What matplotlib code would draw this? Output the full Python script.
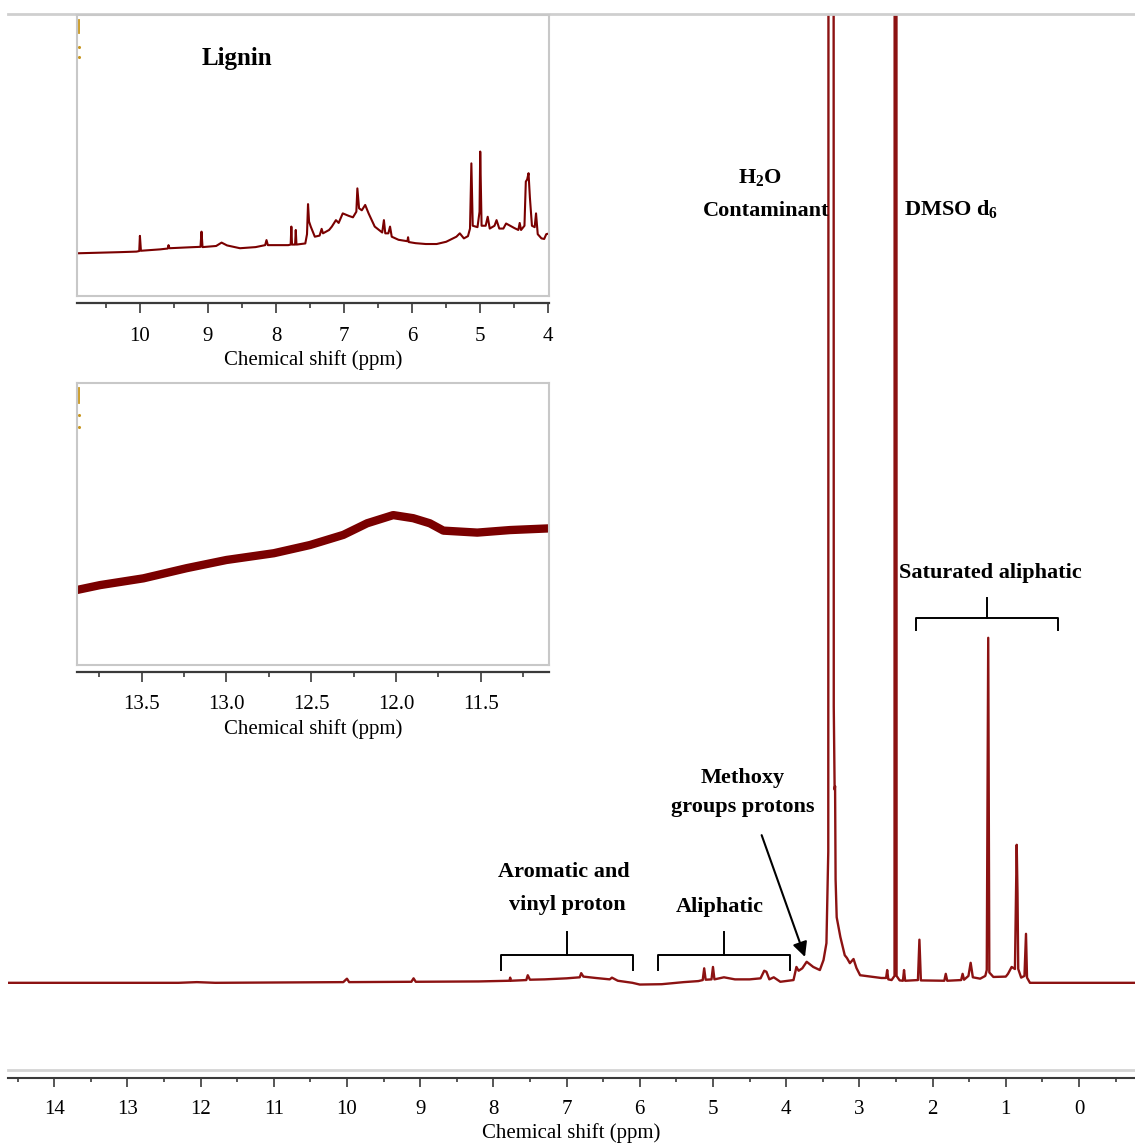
import matplotlib
matplotlib.use("Agg")
import matplotlib.pyplot as plt
from matplotlib.ticker import MultipleLocator, FormatStrFormatter
from matplotlib.lines import Line2D

# ---------------------------------------------------------------------------
# 1H NMR spectrum of lignin in DMSO-d6 (chemical shift in ppm, relative intensity)
# ---------------------------------------------------------------------------
main_ppm = [14.63, 12.30, 12.05, 11.80, 10.05, 10.00, 9.97, 9.12, 9.09, 9.06,
            8.20, 7.78, 7.77, 7.76, 7.55, 7.53, 7.50, 7.30, 7.00, 6.82, 6.80,
            6.77, 6.60, 6.41, 6.38, 6.30, 6.10, 6.00, 5.70, 5.40, 5.20, 5.14,
            5.12, 5.10, 5.02, 5.00, 4.98, 4.85, 4.70, 4.50, 4.35, 4.30, 4.27,
            4.23, 4.17, 4.08, 3.90, 3.86, 3.83, 3.78, 3.72, 3.63, 3.54, 3.49,
            3.45, 3.425, 3.405, 3.365, 3.35, 3.338, 3.332, 3.325, 3.31, 3.26,
            3.20, 3.17, 3.13, 3.08, 3.04, 2.99, 2.70, 2.635, 2.62, 2.605, 2.56,
            2.52, 2.509, 2.502, 2.492, 2.45, 2.405, 2.39, 2.375, 2.20, 2.18, 2.16,
            1.84, 1.82, 1.80, 1.61, 1.59, 1.57, 1.51, 1.48, 1.45, 1.35, 1.28,
            1.26, 1.24, 1.225, 1.17, 1.00, 0.97, 0.92, 0.875, 0.851, 0.84, 0.83,
            0.79, 0.745, 0.724, 0.71, 0.67, -0.77]
main_int = [0.0, 0.0, 0.2, 0.0, 0.2, 1.2, 0.2, 0.3, 1.3, 0.3,
            0.4, 0.6, 1.5, 0.6, 0.8, 2.2, 0.9, 1.0, 1.3, 1.6, 2.8,
            1.8, 1.4, 1.0, 1.5, 0.6, 0.0, -0.5, -0.4, 0.2, 0.5, 0.8,
            4.2, 0.9, 1.0, 4.6, 1.0, 1.6, 1.0, 1.0, 1.3, 3.5, 3.2,
            1.0, 1.6, 0.3, 0.8, 4.6, 3.5, 4.2, 6.1, 4.6, 3.7, 6.6,
            11.5, 38.0, 2000.0, 2000.0, 80.0, 56.0, 57.0, 30.0, 19.0, 13.3,
            8.0, 7.2, 5.7, 6.9, 4.3, 2.2, 1.4, 1.4, 3.7, 1.0, 0.8,
            2.0, 2000.0, 2000.0, 2.0, 0.7, 0.6, 3.7, 0.6, 0.8, 12.5, 0.7,
            0.6, 2.6, 0.6, 0.8, 2.6, 0.9, 2.0, 5.8, 1.6, 1.2, 2.0,
            3.7, 100.0, 3.0, 1.7, 1.8, 2.6, 4.6, 4.0, 40.0, 26.0, 4.0,
            1.5, 2.0, 14.2, 1.5, 0.0, 0.0]

# Expanded region 11-4 ppm (top inset)
ins1_ppm = [10.92, 10.30, 10.05, 10.01, 10.00, 9.985, 9.70, 9.59, 9.58, 9.565,
            9.30, 9.11, 9.095, 9.08, 8.88, 8.80, 8.72, 8.53, 8.30, 8.16, 8.14,
            8.12, 7.82, 7.785, 7.775, 7.765, 7.72, 7.71, 7.70, 7.57, 7.545,
            7.53, 7.515, 7.49, 7.43, 7.36, 7.33, 7.31, 7.22, 7.18, 7.12, 7.08,
            7.02, 6.93, 6.87, 6.82, 6.805, 6.78, 6.74, 6.69, 6.64, 6.55, 6.44,
            6.415, 6.395, 6.35, 6.325, 6.30, 6.20, 6.07, 6.06, 6.05, 5.95, 5.80,
            5.64, 5.50, 5.35, 5.30, 5.24, 5.18, 5.15, 5.13, 5.11, 5.04, 5.01,
            5.00, 4.98, 4.92, 4.89, 4.86, 4.79, 4.76, 4.72, 4.66, 4.62, 4.56,
            4.50, 4.44, 4.42, 4.40, 4.35, 4.33, 4.31, 4.29, 4.27, 4.24, 4.20,
            4.18, 4.155, 4.10, 4.06, 4.03, 3.98]
ins1_int = [15.2, 15.6, 15.8, 16.0, 21.4, 16.1, 16.6, 16.9, 18.1, 17.0,
            17.3, 17.5, 22.9, 17.4, 17.8, 19.0, 18.0, 17.0, 17.4, 18.1, 19.9,
            18.1, 18.1, 18.3, 24.7, 18.3, 18.3, 23.5, 18.3, 18.7, 22.0,
            32.7, 26.5, 24.7, 21.1, 21.5, 23.9, 22.3, 23.5, 24.7, 27.0, 26.0,
            29.4, 28.5, 28.0, 30.0, 38.3, 31.2, 30.5, 32.4, 29.4, 24.7, 22.6,
            27.0, 22.3, 22.3, 24.7, 21.1, 20.0, 19.5, 20.9, 19.2, 18.8, 18.5,
            18.5, 19.3, 21.1, 22.3, 20.5, 21.3, 24.0, 47.2, 25.0, 24.5, 30.0,
            51.4, 25.0, 25.0, 28.2, 24.0, 25.0, 27.0, 24.0, 24.0, 25.8, 25.0,
            24.2, 23.5, 26.0, 23.5, 25.0, 40.7, 41.5, 43.7, 35.0, 25.0, 24.5,
            29.4, 22.0, 20.5, 20.3, 22.0, 22.3]

# Expanded region 13.9-11.1 ppm (lower inset)
ins2_ppm = [13.88, 13.746, 13.49, 13.235, 13.0, 12.72, 12.507, 12.31, 12.17,
            12.016, 11.898, 11.80, 11.72, 11.52, 11.327, 11.095]
ins2_int = [26.6, 28.3, 30.7, 34.3, 37.2, 39.6, 42.5, 46.1, 50.2,
            53.1, 52.0, 50.2, 47.6, 46.9, 47.8, 48.4]

main_ticks = list(range(0, 15))
ins1_ticks = [10, 9, 8, 7, 6, 5, 4]
ins2_ticks = [13.5, 13.0, 12.5, 12.0, 11.5]

# ---------------------------------------------------------------------------
plt.rcParams["font.family"] = ["Liberation Serif", "DejaVu Serif"]
plt.rcParams["mathtext.fontset"] = "custom"
plt.rcParams["mathtext.rm"] = "Liberation Serif:bold"
plt.rcParams["mathtext.bf"] = "Liberation Serif:bold"
plt.rcParams["mathtext.it"] = "Liberation Serif:bold:italic"

W, H = 1135, 1144
fig = plt.figure(figsize=(W / 100, H / 100), dpi=100)


def fx(x):
    return x / W


def fy(y):
    return 1 - y / H


TRACE = "#8c1212"
TRACE_DARK = "#7a0000"
GRID_GREY = "#c8c8c8"

# ---- main spectrum -------------------------------------------------------
ax_top, ax_bot = 14.0, 1077.7
ax = fig.add_axes([fx(8), fy(ax_bot), fx(1135) - fx(8), (ax_bot - ax_top) / H])
ax.plot(main_ppm, main_int, color=TRACE, lw=1.7)
ax.set_xlim(14.63, -0.765)
ax.set_ylim(-27.5, 280.8)
ax.set_yticks([])
for side in ("left", "right"):
    ax.spines[side].set_visible(False)
ax.spines["top"].set_color("#cfcfcf")
ax.spines["top"].set_linewidth(2)
ax.spines["bottom"].set_color("#3a3a3a")
ax.spines["bottom"].set_linewidth(1.5)
ax.set_xticks(main_ticks)
ax.xaxis.set_minor_locator(MultipleLocator(0.5))
ax.tick_params(axis="x", which="major", direction="out", length=6.5,
               width=1.2, color="#3a3a3a", pad=9.5, labelsize=15)
ax.tick_params(axis="x", which="minor", direction="out", length=3,
               width=1.2, color="#3a3a3a")
ax.set_xlabel("Chemical shift (ppm)", fontsize=15, labelpad=3)
gline = (ax_bot - 1070) / (ax_bot - ax_top)
ax.plot([0, 1], [gline, gline], transform=ax.transAxes, color="#d4d4d4",
        lw=2, clip_on=False)

# region brackets (ppm span, drawn a little above the baseline)
def bracket(x0, x1, y_bar, y_end, y_tip):
    xc = (x0 + x1) / 2
    ax.add_line(Line2D([x0, x0, x1, x1], [y_end, y_bar, y_bar, y_end],
                       color="black", lw=1.4))
    ax.add_line(Line2D([xc, xc], [y_bar, y_tip], color="black", lw=1.4))


bracket(7.89, 6.09, 8.0, 3.7, 14.8)
bracket(5.75, 3.95, 8.0, 3.7, 14.8)
bracket(2.23, 0.29, 105.6, 102.2, 111.4)

ax.annotate("", xy=(3.743, 7.5), xytext=(4.335, 42.8),
            arrowprops=dict(arrowstyle="-|>", color="black", lw=1.5,
                            mutation_scale=22, shrinkA=0, shrinkB=0))

lab = dict(fontsize=16, fontweight="bold", ha="center", va="baseline")
fig.text(fx(760), fy(183.3), "H$_2$O", **lab)
fig.text(fx(766), fy(216), "Contaminant", **lab)
fig.text(fx(951.5), fy(215), "DMSO d$_6$", **lab)
fig.text(fx(990), fy(578.3), "Saturated aliphatic", **lab)
fig.text(fx(742.5), fy(783), "Methoxy", **lab)
fig.text(fx(743), fy(811.7), "groups protons", **lab)
fig.text(fx(563.5), fy(876.7), "Aromatic and", **lab)
fig.text(fx(567.5), fy(910), "vinyl proton", **lab)
fig.text(fx(720), fy(911.7), "Aliphatic", **lab)


# ---- expanded insets -----------------------------------------------------
def inset(top, bottom, axis_y, xlim, ppm, inten, lw, ticks, minor, fmt,
          marks):
    axi = fig.add_axes([fx(77.3), fy(bottom), fx(549.3) - fx(77.3),
                        (bottom - top) / H])
    axi.plot(ppm, inten, color=TRACE_DARK, lw=lw)
    axi.set_xlim(*xlim)
    axi.set_ylim(0, 100)
    axi.set_xticks([])
    axi.set_yticks([])
    for s in axi.spines.values():
        s.set_color(GRID_GREY)
        s.set_linewidth(1.5)
    # small clipped y-axis remnants in the top-left corner
    axi.plot([0.0036, 0.0036], [marks[0], marks[1]], transform=axi.transAxes,
             color="#c8961e", lw=1.3)
    axi.plot([0.0045, 0.0045], [marks[2], marks[3]], transform=axi.transAxes,
             color="#c8961e", lw=0, marker="o", ms=1.2)
    sec = axi.secondary_xaxis(-(axis_y - bottom) / (bottom - top))
    sec.set_xticks(ticks)
    sec.xaxis.set_minor_locator(MultipleLocator(minor))
    sec.xaxis.set_major_formatter(FormatStrFormatter(fmt))
    sec.spines["bottom"].set_linewidth(1.6)
    sec.spines["bottom"].set_color("#3a3a3a")
    sec.tick_params(axis="x", which="major", direction="out", length=7.5,
                    width=1.2, color="#3a3a3a", pad=9.5, labelsize=15)
    sec.tick_params(axis="x", which="minor", direction="out", length=3.8,
                    width=1.2, color="#3a3a3a")
    sec.set_xlabel("Chemical shift (ppm)", fontsize=15, labelpad=3.3)
    return axi


ax1 = inset(15.0, 296.0, 303.0, (10.92, 3.985), ins1_ppm, ins1_int, 1.5,
            ins1_ticks, 0.5, "%d", (0.982, 0.936, 0.886, 0.851))
ax1.text(0.339, 0.822, "Lignin", transform=ax1.transAxes, fontsize=18,
         fontweight="bold", ha="center", va="baseline")

ax2 = inset(382.7, 665.0, 671.7, (13.88, 11.095), ins2_ppm, ins2_int, 6.0,
            ins2_ticks, 0.25, "%.1f", (0.981, 0.928, 0.886, 0.843))

fig.savefig("out.png", dpi=100)
